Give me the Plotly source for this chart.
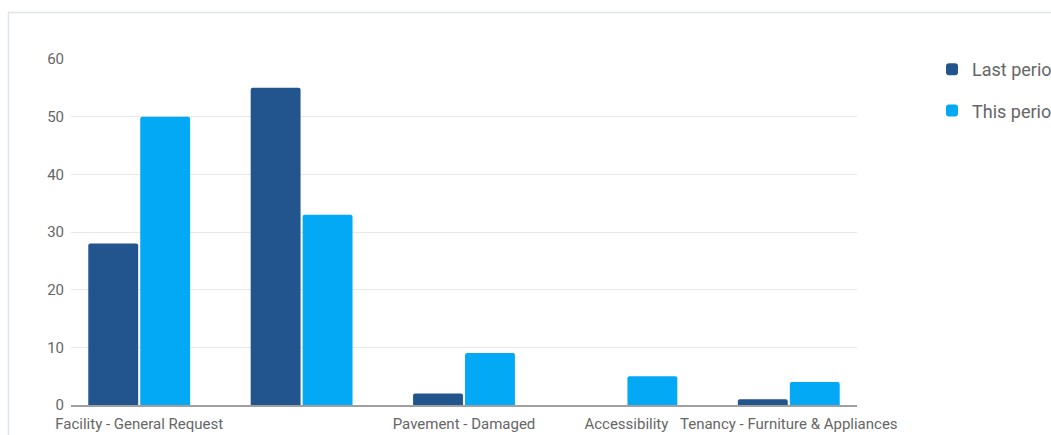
import plotly.graph_objects as go

categories = ["Facility - General Request", " ", "Pavement - Damaged", "Accessibility",
              "Tenancy - Furniture & Appliances"]
last_period = [28, 55, 2, 0, 1]
this_period = [50, 33, 9, 5, 4]
y_ticks = [0, 10, 20, 30, 40, 50, 60]

W, H = 1051, 435
L, R, T, B = 71, 857, 59, 405

fig = go.Figure()
fig.add_trace(go.Bar(name="Last period", x=categories, y=last_period,
                     marker=dict(color="#22548e", cornerradius=2, line=dict(width=0)),
                     legendgroup="a"))
fig.add_trace(go.Bar(name="This period", x=categories, y=this_period,
                     marker=dict(color="#03a9f4", cornerradius=2, line=dict(width=0)),
                     legendgroup="b"))

pw = R - L
ph = B - T
fig.add_shape(type="rect", xref="paper", yref="paper",
              x0=(8.5 - L) / pw, x1=(W + 20 - L) / pw,
              y0=-(H + 20 - B) / ph, y1=(B - 12.5) / ph,
              line=dict(color="#dfe4ea", width=1.5), fillcolor="rgba(0,0,0,0)", layer="below")

fig.update_layout(
    width=W, height=H,
    margin=dict(l=L, r=W - R, t=T, b=H - B, pad=0, autoexpand=False),
    paper_bgcolor="white", plot_bgcolor="white",
    font=dict(family="Roboto", size=15, color="#666666"),
    barmode="group", bargap=0.36, bargroupgap=0.04,
    showlegend=True,
    legend=dict(x=(932 - L) / pw, y=(B - 51) / ph, xanchor="left", yanchor="top",
                font=dict(size=18, color="#666666"), traceorder="grouped",
                tracegroupgap=15, itemwidth=30, bgcolor="rgba(0,0,0,0)"),
    xaxis=dict(type="category", range=[-0.42, 4.42], showgrid=False, automargin=False,
               showline=True, linecolor="#a0a0a0", linewidth=1.5, ticks="",
               tickfont=dict(size=15, color="#666666"), ticklabelstandoff=4,
               fixedrange=True),
    yaxis=dict(range=[0, 60], tickvals=y_ticks, showgrid=True, gridcolor="#e8e8e8",
               gridwidth=1, zeroline=False, showline=False, ticks="", automargin=False,
               tickfont=dict(size=15, color="#666666"), ticklabelstandoff=6,
               fixedrange=True),
)

fig.write_html("out.html")
